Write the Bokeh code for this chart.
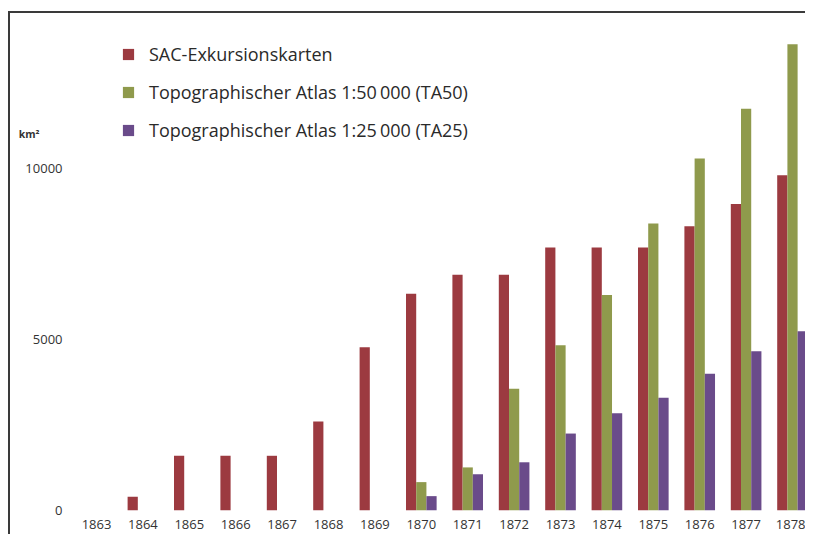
from bokeh.plotting import figure
from bokeh.models import Range1d, FixedTicker, Legend, LegendItem, LinearAxis, ColumnDataSource
from bokeh.transform import dodge
from bokeh.embed import file_html
from bokeh.resources import INLINE

years = [1863, 1864, 1865, 1866, 1867, 1868, 1869, 1870, 1871, 1872, 1873, 1874, 1875, 1876, 1877, 1878]
sac = [0, 400, 1600, 1600, 1600, 2600, 4770, 6340, 6890, 6890, 7690, 7690, 7690, 8310, 8960, 9800]
ta50 = [0, 0, 0, 0, 0, 0, 0, 830, 1260, 3560, 4830, 6300, 8390, 10290, 11750, 13630]
ta25 = [0, 0, 0, 0, 0, 0, 0, 420, 1060, 1410, 2250, 2840, 3300, 4000, 4660, 5240]
y_ticks = [0, 5000, 10000]
unit_tick = [11000]
unit_label = "km\u00b2"
labels = ["SAC-Exkursionskarten", "Topographischer Atlas 1:50\u2009000 (TA50)", "Topographischer Atlas 1:25\u2009000 (TA25)"]
colors = ["#9c3a40", "#8f9a4c", "#6a4b8a"]

src = ColumnDataSource(dict(year=years, sac=sac, ta50=ta50, ta25=ta25))

FONT = "Open Sans"
p = figure(width=797, height=523, output_backend="svg", toolbar_location=None,
           x_range=Range1d(1862.504, 1878.323), y_range=Range1d(0, 14474),
           min_border_left=63, min_border_right=0, min_border_top=2, min_border_bottom=26)
p.styles = {"margin-top": "11px", "margin-left": "8px",
            "border-top": "2px solid #3a3a3a", "border-left": "2px solid #3a3a3a"}
p.outline_line_color = None
p.background_fill_color = "white"
p.border_fill_color = "white"
p.grid.visible = False

w = 0.22
r1 = p.vbar(x=dodge("year", -w, range=p.x_range), top="sac", width=w, source=src, fill_color=colors[0], line_color=None)
r2 = p.vbar(x=dodge("year", 0, range=p.x_range), top="ta50", width=w, source=src, fill_color=colors[1], line_color=None)
r3 = p.vbar(x=dodge("year", w, range=p.x_range), top="ta25", width=w, source=src, fill_color=colors[2], line_color=None)

unit_axis = LinearAxis(ticker=FixedTicker(ticks=unit_tick),
                       major_label_overrides={unit_tick[0]: unit_label})
p.add_layout(unit_axis, "left")

for ax in (p.xaxis[0], p.yaxis[0], unit_axis):
    ax.axis_line_color = None
    ax.major_tick_line_color = None
    ax.minor_tick_line_color = None
    ax.major_tick_out = 0
    ax.major_tick_in = 0
    ax.major_label_text_font = FONT
    ax.major_label_text_font_size = "13px"
    ax.major_label_text_color = "#333333"
p.xaxis[0].ticker = FixedTicker(ticks=years)
p.xaxis[0].major_label_standoff = 9
p.yaxis[0].ticker = FixedTicker(ticks=y_ticks)
p.yaxis[0].major_label_standoff = 11
unit_axis.major_label_text_font_style = "bold"
unit_axis.major_label_text_font_size = "10.5px"
unit_axis.major_label_standoff = -17

legend = Legend(items=[LegendItem(label=labels[0], renderers=[r1]),
                       LegendItem(label=labels[1], renderers=[r2]),
                       LegendItem(label=labels[2], renderers=[r3])],
                location=(48, 368), orientation="vertical")
legend.background_fill_alpha = 0
legend.border_line_color = None
legend.padding = 0
legend.margin = 0
legend.spacing = 14
legend.glyph_width = 14
legend.glyph_height = 14
legend.label_height = 24
legend.label_standoff = 14
legend.label_text_font = FONT
legend.label_text_font_size = "18px"
legend.label_text_color = "#2a2a2a"
p.add_layout(legend)

open("out.html", "w").write(file_html(p, INLINE))
